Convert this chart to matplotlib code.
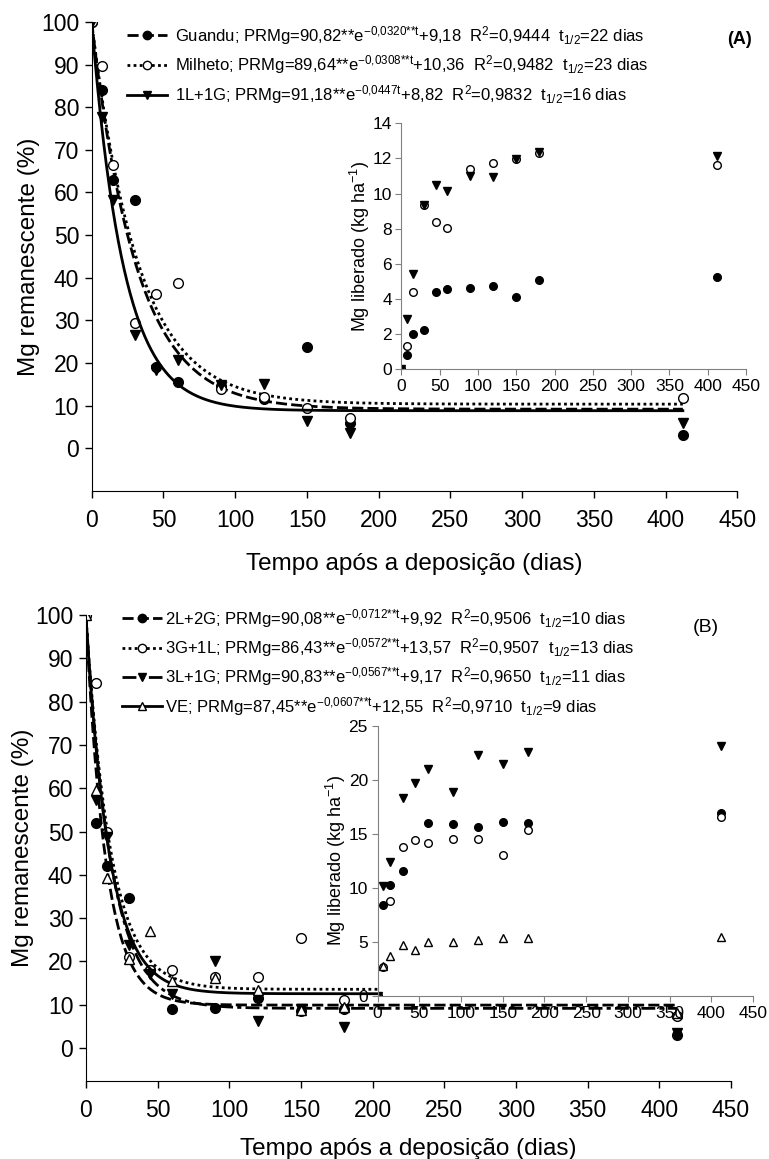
import numpy as np
import matplotlib
matplotlib.use("Agg")
from matplotlib import pyplot as plt
from matplotlib.lines import Line2D

plt.rcParams['font.family'] = ['Liberation Sans', 'DejaVu Sans']
plt.rcParams['mathtext.default'] = 'regular'

dias = [0, 7, 15, 30, 45, 60, 90, 120, 150, 180, 412]

# (A) Mg remanescente (%)
guandu_rem = [100, 84, 63, 58.2, 19.1, 15.6, 14.5, 11.5, 23.8, 5.9, 3.1]
milheto_rem = [100, 89.6, 66.4, 29.3, 36.3, 38.7, 13.8, 12.0, 9.4, 7.0, 11.8]
l1g1_rem = [100, 77.7, 58.2, 26.6, 18.4, 20.7, 14.8, 15.0, 6.5, 3.5, 6.0]

# (A) Mg liberado (kg/ha)
guandu_lib = [0, 0.82, 2.0, 2.24, 4.38, 4.55, 4.65, 4.76, 4.12, 5.07, 5.26]
milheto_lib = [0, 1.33, 4.38, 9.34, 8.37, 8.06, 11.39, 11.71, 11.95, 12.3, 11.63]
l1g1_lib = [0, 2.87, 5.43, 9.37, 10.46, 10.17, 10.97, 10.93, 11.95, 12.35, 12.14]

# (B) Mg remanescente (%)
l2g2_rem = [100, 52, 42, 34.6, 18, 9, 9.3, 11.5, 8.6, 9, 3.0]
g3l1_rem = [100, 84.4, 50, 21, 18, 18, 16.5, 16.5, 25.5, 11, 7.5]
l3g1_rem = [100, 57.3, 48.8, 23.8, 17, 12.5, 20.2, 6.2, 9, 4.8, 3.5]
ve_rem = [100, 59.6, 39.2, 20.5, 27, 15.5, 16.2, 13.5, 8.8, 9.5, 8]

# (B) Mg liberado (kg/ha)
l2g2_lib = [0, 8.45, 10.25, 11.6, np.nan, 16.0, 15.9, 15.6, 16.1, 16.0, 16.9]
g3l1_lib = [0, 2.7, 8.8, 13.8, 14.4, 14.2, 14.5, 14.5, 13.0, 15.4, 16.6]
l3g1_lib = [0, 10.2, 12.4, 18.3, 19.7, 21.0, 18.9, 22.3, 21.5, 22.6, 23.1]
ve_lib = [0, 2.8, 3.7, 4.7, 4.3, 5.0, 5.0, 5.2, 5.4, 5.4, 5.5]

# modelos ajustados: PRMg = a*exp(-k*t) + c
coef_A = {'Guandu': (90.82, 0.0320, 9.18), 'Milheto': (89.64, 0.0308, 10.36), '1L+1G': (91.18, 0.0447, 8.82)}
coef_B = {'2L+2G': (90.08, 0.0712, 9.92), '3G+1L': (86.43, 0.0572, 13.57),
          '3L+1G': (90.83, 0.0567, 9.17), 'VE': (87.45, 0.0607, 12.55)}

leg_A = [
    "Guandu; PRMg=90,82**e$^{-0{,}0320{*}{*}t}$+9,18  R$^2$=0,9444  t$_{1/2}$=22 dias",
    "Milheto; PRMg=89,64**e$^{-0{,}0308{*}{*}t}$+10,36  R$^2$=0,9482  t$_{1/2}$=23 dias",
    "1L+1G; PRMg=91,18**e$^{-0{,}0447t}$+8,82  R$^2$=0,9832  t$_{1/2}$=16 dias",
]
leg_B = [
    "2L+2G; PRMg=90,08**e$^{-0{,}0712{*}{*}t}$+9,92  R$^2$=0,9506  t$_{1/2}$=10 dias",
    "3G+1L; PRMg=86,43**e$^{-0{,}0572{*}{*}t}$+13,57  R$^2$=0,9507  t$_{1/2}$=13 dias",
    "3L+1G; PRMg=90,83**e$^{-0{,}0567{*}{*}t}$+9,17  R$^2$=0,9650  t$_{1/2}$=11 dias",
    "VE; PRMg=87,45**e$^{-0{,}0607{*}{*}t}$+12,55  R$^2$=0,9710  t$_{1/2}$=9 dias",
]

t = np.linspace(0, 412, 400)

FILLED = dict(marker='o', mfc='black', mec='black')
OPEN = dict(marker='o', mfc='white', mec='black')
TRI_D = dict(marker='v', mfc='black', mec='black')
TRI_U = dict(marker='^', mfc='white', mec='black')


def style_main(ax, ymin, xlabelpad):
    ax.set_xlim(0, 450)
    ax.set_ylim(ymin, 100)
    ax.set_xticks(range(0, 451, 50))
    ax.set_yticks(range(0, 101, 10))
    ax.spines['top'].set_visible(False)
    ax.spines['right'].set_visible(False)
    ax.tick_params(direction='out', length=5, width=1, labelsize=16.5)
    ax.tick_params(axis='x', pad=8)
    ax.tick_params(axis='y', pad=4)
    ax.set_xlabel('Tempo após a deposição (dias)', fontsize=17.5, labelpad=xlabelpad)
    ax.set_ylabel('Mg remanescente (%)', fontsize=17.5, labelpad=1)


def style_inset(ax, ymax, ystep):
    ax.set_xlim(0, 450)
    ax.set_ylim(0, ymax)
    ax.set_xticks(range(0, 451, 50))
    ax.set_yticks(np.arange(0, ymax + 0.1, ystep))
    ax.spines['top'].set_visible(False)
    ax.spines['right'].set_visible(False)
    for s in ('left', 'bottom'):
        ax.spines[s].set_color('#808080')
    ax.tick_params(direction='out', length=4, color='#808080', labelsize=12.5, pad=3)
    ax.set_ylabel('Mg liberado (kg ha$^{-1}$)', fontsize=13, labelpad=0)


fig = plt.figure(figsize=(7.69, 11.59), dpi=100)

# ---------------- (A)
axA = fig.add_axes([0.1192, 0.5764, 0.8397, 0.4047])
estilos_A = [
    ('Guandu', guandu_rem, FILLED, dict(ls=(0, (4, 1.5)))),
    ('Milheto', milheto_rem, OPEN, dict(ls=(0, (1, 1.2)))),
    ('1L+1G', l1g1_rem, TRI_D, dict(ls='-')),
]
handles = []
for (nome, rem, mk, ls), lab in zip(estilos_A, leg_A):
    a, k, c = coef_A[nome]
    axA.plot(t, a * np.exp(-k * t) + c, color='black', lw=2, **ls)
    axA.plot(dias, rem, ls='none', ms=7, **mk)
    handles.append(Line2D([], [], color='black', lw=2, ms=6, label=lab, **ls, **mk))
style_main(axA, -10, 15)
axA.legend(handles=handles, loc='upper left', bbox_to_anchor=(127 / 769, 1 - 24 / 1159),
           bbox_transform=fig.transFigure, frameon=False, fontsize=12, handlelength=2.4,
           handletextpad=0.5, labelspacing=0.4, borderpad=0, borderaxespad=0)
fig.text(0.978, 1 - 40 / 1159, '(A)', fontsize=13, fontweight='bold', ha='right', va='center')

insA = fig.add_axes([0.5221, 0.6814, 0.448, 0.2123])
insA.set_facecolor('white')
insA.plot(dias, guandu_lib, ls='none', ms=5.5, **FILLED)
insA.plot(dias, milheto_lib, ls='none', ms=5.5, **OPEN)
insA.plot(dias, l1g1_lib, ls='none', ms=5.5, **TRI_D)
style_inset(insA, 14, 2)

# ---------------- (B)
axB = fig.add_axes([0.1116, 0.0677, 0.839, 0.4016])
estilos_B = [
    ('2L+2G', l2g2_rem, FILLED, dict(ls=(0, (4, 1.5)))),
    ('3G+1L', g3l1_rem, OPEN, dict(ls=(0, (1, 1.2)))),
    ('3L+1G', l3g1_rem, TRI_D, dict(ls=(0, (5, 1.5, 1.5, 1.5)))),
    ('VE', ve_rem, TRI_U, dict(ls='-')),
]
handles = []
for (nome, rem, mk, ls), lab in zip(estilos_B, leg_B):
    a, k, c = coef_B[nome]
    axB.plot(t, a * np.exp(-k * t) + c, color='black', lw=2, **ls)
    axB.plot(dias, rem, ls='none', ms=7, **mk)
    handles.append(Line2D([], [], color='black', lw=2, ms=6, label=lab, **ls, **mk))
style_main(axB, -7.5, 12)
axB.legend(handles=handles, loc='upper left', bbox_to_anchor=(122 / 769, 1 - 607 / 1159),
           bbox_transform=fig.transFigure, frameon=False, fontsize=12, handlelength=2.4,
           handletextpad=0.2, labelspacing=0.38, borderpad=0, borderaxespad=0)
fig.text(0.935, 1 - 628 / 1159, '(B)', fontsize=14, ha='right', va='center')

insB = fig.add_axes([0.4911, 0.1406, 0.488, 0.2332])
insB.set_facecolor('white')
insB.plot(dias, l2g2_lib, ls='none', ms=5.5, **FILLED)
insB.plot(dias, g3l1_lib, ls='none', ms=5.5, **OPEN)
insB.plot(dias, l3g1_lib, ls='none', ms=5.5, **TRI_D)
insB.plot(dias, ve_lib, ls='none', ms=5.5, **TRI_U)
style_inset(insB, 25, 5)

fig.savefig('out.png', dpi=100)
